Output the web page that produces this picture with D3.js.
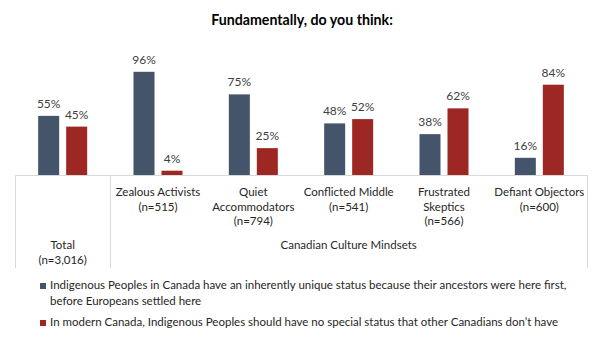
<!DOCTYPE html>
<html><head><meta charset="utf-8">
<script src="https://cdn.jsdelivr.net/npm/d3@7"></script>
<style>
body{margin:0;background:#fff;}
svg{display:block;font-family:Lato,"Open Sans",sans-serif;}
</style></head>
<body><svg id="c" width="602" height="342"></svg>
<script>
const categories = ["Total", "Zealous Activists", "Quiet Accommodators", "Conflicted Middle", "Frustrated Skeptics", "Defiant Objectors"];
const categoryLines = [["Total","(n=3,016)"],["Zealous Activists","(n=515)"],["Quiet","Accommodators","(n=794)"],["Conflicted Middle","(n=541)"],["Frustrated","Skeptics","(n=566)"],["Defiant Objectors","(n=600)"]];
const seriesNames = ["Indigenous Peoples in Canada have an inherently unique status because their ancestors were here first, before Europeans settled here",
  "In modern Canada, Indigenous Peoples should have no special status that other Canadians don\u2019t have"];
const uniqueStatus = [55, 96, 75, 48, 38, 16];
const noSpecialStatus = [45, 4, 25, 52, 62, 84];
const groupLabel = "Canadian Culture Mindsets";
const title = "Fundamentally, do you think:";
const colors = ["#44546A", "#9C2723"];

const svg = d3.select("#c");
const x0 = d3.scaleBand().domain(categories).range([15, 587]).padding(0);
const x1 = d3.scaleBand().domain([0,1]).range([-24.5, 24.5]).paddingInner(0.25).paddingOuter(0);
const y = d3.scaleLinear().domain([0, 100]).range([175, 67.5]);

svg.append("text").attr("x", 302).attr("y", 25).attr("text-anchor","middle")
  .attr("font-size", 14.2).attr("font-weight","bold").attr("fill","#000").text(title);

// table lines
const lineCol = "#D9D9D9";
svg.append("line").attr("x1",15).attr("x2",587).attr("y1",175.5).attr("y2",175.5).attr("stroke",lineCol);
[15, x0("Zealous Activists"), 587].forEach(xx => {
  svg.append("line").attr("x1",Math.round(xx)+0.5).attr("x2",Math.round(xx)+0.5).attr("y1",175).attr("y2",268).attr("stroke",lineCol);
});

const data = categories.map((c,i)=>({cat:c, vals:[uniqueStatus[i], noSpecialStatus[i]]}));
const g = svg.selectAll("g.grp").data(data).join("g").attr("class","grp")
  .attr("transform", d => `translate(${x0(d.cat)+x0.bandwidth()/2},0)`);
g.selectAll("rect").data(d=>d.vals).join("rect")
  .attr("x",(v,i)=>x1(i)).attr("width",x1.bandwidth())
  .attr("y",v=>y(v)).attr("height",v=>y(0)-y(v)).attr("fill",(v,i)=>colors[i]);
g.selectAll("text.v").data(d=>d.vals).join("text").attr("class","v")
  .attr("x",(v,i)=>x1(i)+x1.bandwidth()/2).attr("y",v=>y(v)-8)
  .attr("text-anchor","middle").attr("font-size",12).attr("fill","#404040").text(v=>v+"%");

// category labels
categories.forEach((c,i)=>{
  const cx = x0(c)+x0.bandwidth()/2;
  const lines = categoryLines[i];
  const y0 = i===0 ? 249 : 196;
  lines.forEach((t,k)=>{
    svg.append("text").attr("x",cx).attr("y",y0+k*14.5).attr("text-anchor","middle")
      .attr("font-size",11.5).attr("fill","#262626").text(t);
  });
});
svg.append("text").attr("x",(x0("Zealous Activists")+587)/2).attr("y",249).attr("text-anchor","middle")
  .attr("font-size",11.5).attr("fill","#262626").text(groupLabel);

// legend
const legendLines = [[ "Indigenous Peoples in Canada have an inherently unique status because their ancestors were here first,", "before Europeans settled here"],
  ["In modern Canada, Indigenous Peoples should have no special status that other Canadians don\u2019t have"]];
const legY = [289, 326];
legendLines.forEach((ls,i)=>{
  svg.append("rect").attr("x",40).attr("y",legY[i]-6).attr("width",6).attr("height",6).attr("fill",colors[i]);
  ls.forEach((t,k)=>{
    svg.append("text").attr("x",50).attr("y",legY[i]+k*16).attr("font-size",11.5).attr("fill","#262626").text(t);
  });
});
</script></body></html>
